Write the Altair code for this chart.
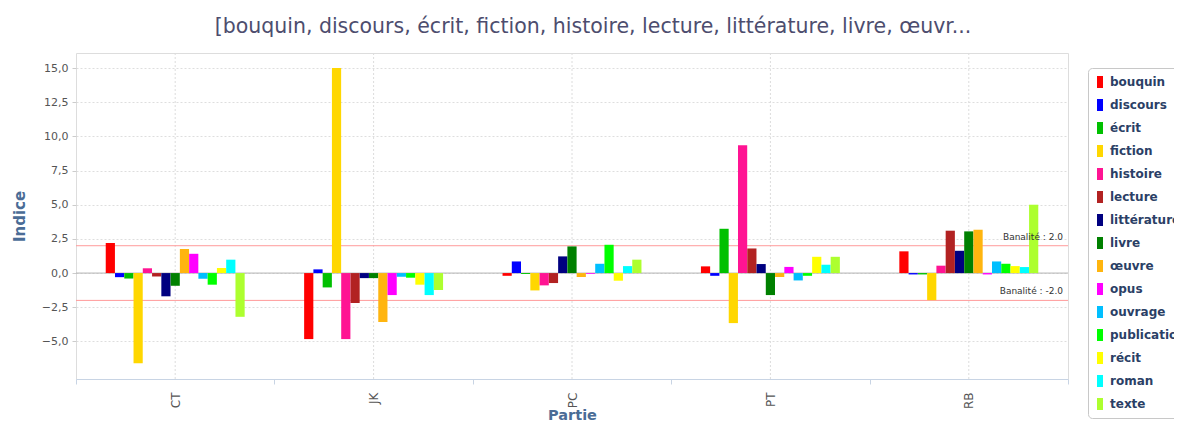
import altair as alt
import pandas as pd

parties = ["CT", "JK", "PC", "PT", "RB"]
mots = ["bouquin", "discours", "écrit", "fiction", "histoire", "lecture", "littérature",
        "livre", "œuvre", "opus", "ouvrage", "publication", "récit", "roman", "texte"]
couleurs = ["#FF0000", "#0000FF", "#00C000", "#FFD700", "#FF1493", "#B22222", "#000080",
            "#008000", "#FFB50F", "#FF00FF", "#00BFFF", "#00FF00", "#FFFF00", "#00FFFF", "#ADFF2F"]

val_CT = [2.2, -0.3, -0.4, -6.6, 0.35, -0.25, -1.7, -0.93, 1.76, 1.41, -0.41, -0.85, 0.37, 0.98, -3.2]
val_JK = [-4.83, 0.27, -1.05, 15.0, -4.83, -2.19, -0.37, -0.37, -3.58, -1.61, -0.27, -0.34, -0.85, -1.61, -1.24]
val_PC = [-0.2, 0.85, -0.07, -1.27, -0.9, -0.73, 1.22, 1.95, -0.29, -0.05, 0.68, 2.07, -0.56, 0.51, 0.98]
val_PT = [0.49, -0.2, 3.24, -3.66, 9.36, 1.8, 0.66, -1.61, -0.29, 0.45, -0.54, -0.2, 1.19, 0.61, 1.19]
val_RB = [1.59, -0.1, -0.1, -1.98, 0.54, 3.1, 1.63, 3.05, 3.17, -0.1, 0.85, 0.68, 0.51, 0.44, 5.0]

seuils = [2.0, -2.0]
seuil_labels = ["Banalité : 2.0", "Banalité : -2.0"]
y_ticks = [-5, -2.5, 0, 2.5, 5, 7.5, 10, 12.5, 15]

titre = "[bouquin, discours, écrit, fiction, histoire, lecture, littérature, livre, œuvr..."

rows = []
for p, vals in zip(parties, [val_CT, val_JK, val_PC, val_PT, val_RB]):
    for m, v in zip(mots, vals):
        rows.append({"Partie": p, "mot": m, "Indice": v})
df = pd.DataFrame(rows)
df_parties = pd.DataFrame({"Partie": parties})
df_seuils = pd.DataFrame({"s": seuils, "lab": seuil_labels})

W, H = 992, 326
FONT = "DejaVu Sans"
STEP = W / len(parties)
GROUP = 139.0

x_scale = alt.Scale(domain=parties, paddingInner=0, paddingOuter=0)
y_scale = alt.Scale(domain=[-7.75, 16.1], nice=False, zero=False)

bars = alt.Chart(df).mark_bar(size=9.2).encode(
    x=alt.X("Partie:N", scale=x_scale, sort=parties,
            axis=alt.Axis(title="Partie", labelAngle=270, tickBand="extent", grid=False,
                          domainColor="#c8d4e4", tickColor="#c8d4e4", tickSize=5,
                          labelPadding=8, labelColor="#555555", labelFontSize=12, labelFont=FONT,
                          titleFont=FONT, titleFontSize=14.5, titleFontWeight="bold",
                          titleColor="#4a6c96", titleY=36, titleBaseline="middle")),
    xOffset=alt.XOffset("mot:N", sort=mots,
                        scale=alt.Scale(domain=mots, paddingInner=0, paddingOuter=0,
                                        range=[(STEP - GROUP) / 2, (STEP + GROUP) / 2])),
    y=alt.Y("Indice:Q", scale=y_scale,
            axis=alt.Axis(title="Indice", values=y_ticks, domain=False,
                          labelExpr="replace(format(datum.value, '.1f'), '.', ',')",
                          grid=True, gridColor="#dedede", gridDash=[2, 2],
                          tickColor="#cccccc", tickSize=4, labelPadding=4,
                          labelColor="#555555", labelFontSize=11, labelFont=FONT,
                          titleFont=FONT, titleFontSize=15, titleFontWeight="bold",
                          titleColor="#4a6c96", titleX=-57, titleY=H / 2,
                          titleBaseline="middle", titleAngle=270)),
    color=alt.Color("mot:N", scale=alt.Scale(domain=mots, range=couleurs), sort=mots,
                    legend=alt.Legend(title=None, orient="none", legendX=1012, legendY=15,
                                      symbolType="M-1,-2H1V2H-1Z", symbolSize=36,
                                      symbolStrokeWidth=0, rowPadding=11, symbolOffset=-2,
                                      labelFont=FONT, labelFontSize=12, labelFontWeight="bold",
                                      labelColor="#2b3f66", labelOffset=4,
                                      padding=8, fillColor="white", strokeColor="#c8c8c8",
                                      cornerRadius=4, labelLimit=200)),
)

vgrid = alt.Chart(df_parties).mark_rule(color="#dcdcdc", strokeDash=[2, 2], strokeWidth=1).encode(
    x=alt.X("Partie:N", scale=x_scale, sort=parties)
)

zero = alt.Chart(df_parties.head(1)).mark_rule(color="#b4b4b4", strokeWidth=1).encode(
    y=alt.datum(0, scale=y_scale)
)

seuil_rules = alt.Chart(df_seuils).mark_rule(color="#ff9a9a", strokeWidth=1).encode(
    y=alt.Y("s:Q", scale=y_scale)
)

seuil_text = alt.Chart(df_seuils).mark_text(
    align="right", baseline="bottom", dy=-4, fontSize=9, font=FONT, color="#333333"
).encode(y=alt.Y("s:Q", scale=y_scale), x=alt.value(W - 5), text="lab:N")

chart = alt.layer(vgrid, zero, seuil_rules, bars, seuil_text).properties(
    width=W, height=H,
    title=alt.TitleParams(titre, font=FONT, fontSize=20.5, fontWeight="normal", color="#4d4d6e",
                          anchor="middle", dx=21, dy=22, baseline="bottom", offset=17),
    autosize=alt.AutoSizeParams(type="none"),
    padding={"left": 68, "top": 45, "right": 106, "bottom": 43},
).configure_view(stroke=None).configure(background="white")

chart.save("out.html", embed_options={"renderer": "svg", "actions": False})
